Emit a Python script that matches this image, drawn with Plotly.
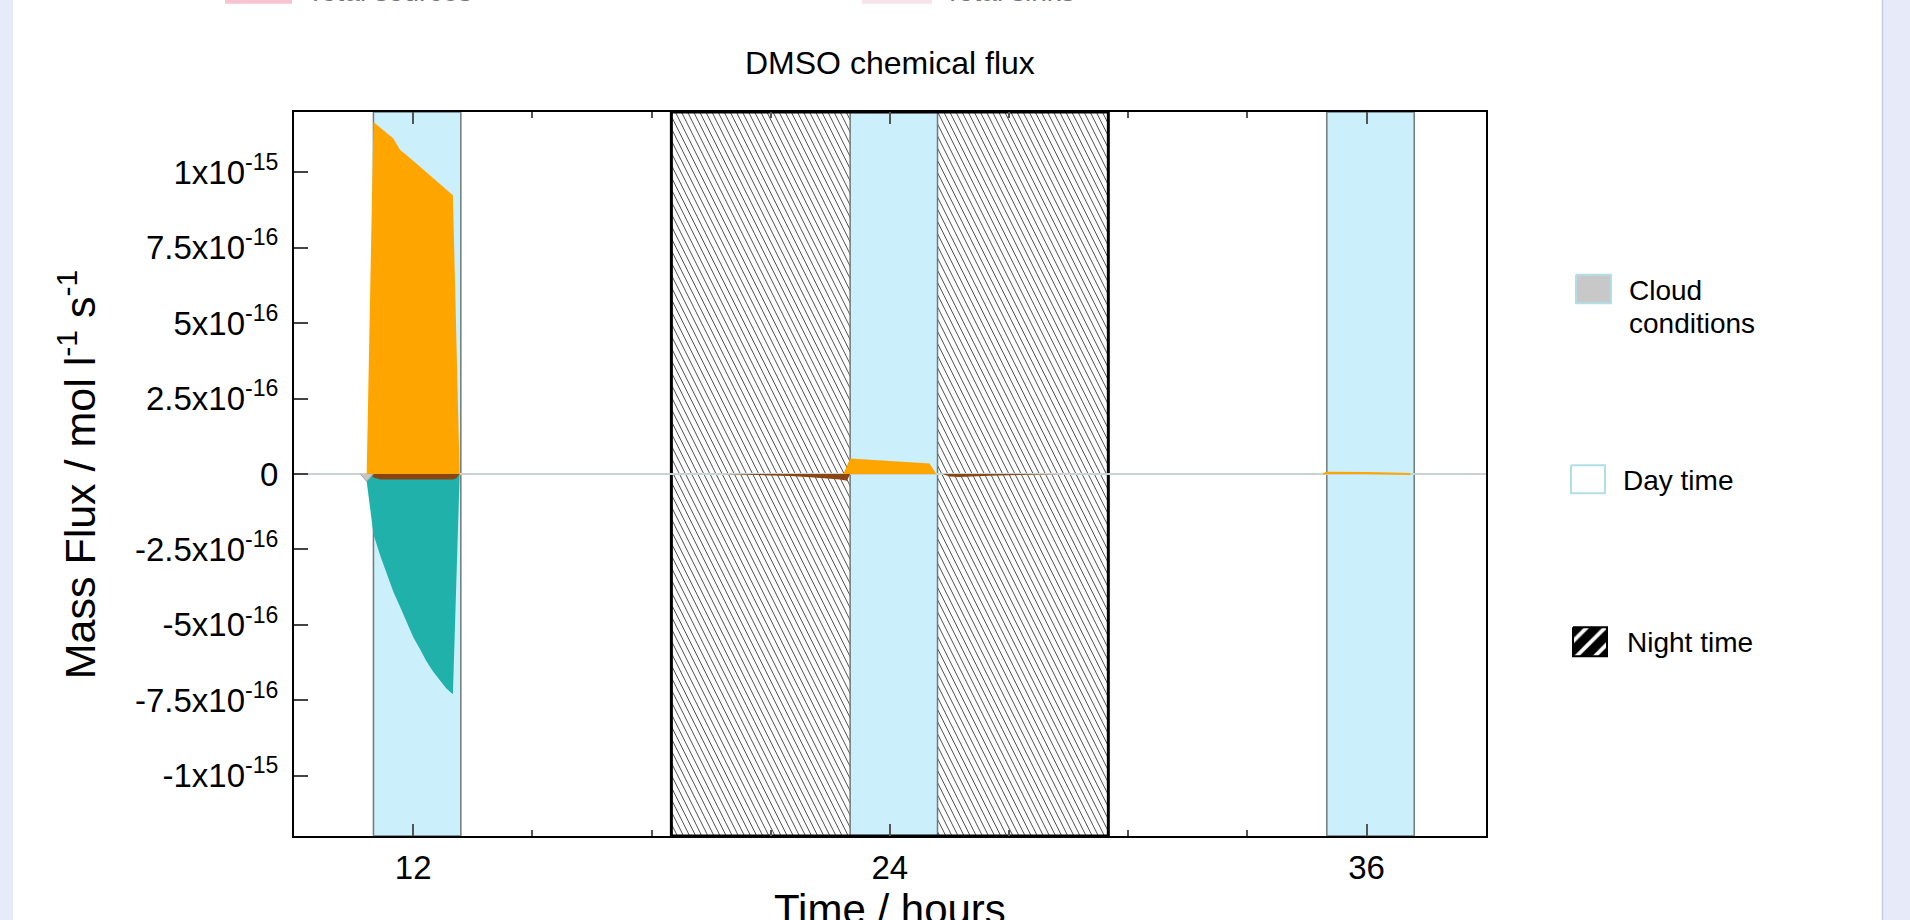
import plotly.graph_objects as go

# ---------------- geometry (reference pixel coords) ----------------
W, H = 1910, 920
PL, PR, PT, PB = 294.0, 1485.7, 111.7, 835.7

X_RANGE = [9, 39]
Y_RANGE = [-1.2e-15, 1.2e-15]

# ---------------- data ----------------
x_tickvals = [12, 24, 36]
x_ticktext = ["12", "24", "36"]

y_tickvals = [1e-15, 7.5e-16, 5e-16, 2.5e-16, 0, -2.5e-16, -5e-16, -7.5e-16, -1e-15]
y_ticktext = ["1x10<sup>-15</sup>", "7.5x10<sup>-16</sup>", "5x10<sup>-16</sup>",
              "2.5x10<sup>-16</sup>", "0", "-2.5x10<sup>-16</sup>",
              "-5x10<sup>-16</sup>", "-7.5x10<sup>-16</sup>", "-1x10<sup>-15</sup>"]

day_start = [11.0, 23.0, 35.0]
day_end = [13.2, 25.2, 37.2]
night_start = [18.5]
night_end = [29.5]

# orange source (positive)
orange1_t = [10.83, 11.0, 11.5, 11.67, 12.0, 12.5, 13.0, 13.17]
orange1_v = [0, 1.167e-15, 1.112e-15, 1.075e-15, 1.038e-15, 0.981e-15, 0.924e-15, 0]
orange2_t = [22.83, 23.0, 24.0, 25.0, 25.17]
orange2_v = [0, 5.1e-17, 4.3e-17, 3.5e-17, 0]
orange3_t = [34.92, 35.0, 36.0, 37.0, 37.1]
orange3_v = [0, 4e-18, 3e-18, 2e-18, 0]

# teal sink (negative)
teal_t = [10.83, 11.0, 11.17, 11.33, 11.5, 11.67, 11.83, 12.0, 12.17, 12.33,
          12.5, 12.67, 12.83, 13.0, 13.17]
teal_v = [-2.5e-17, -2.0e-16, -2.7e-16, -3.3e-16, -3.9e-16, -4.4e-16, -4.9e-16,
          -5.4e-16, -5.8e-16, -6.2e-16, -6.55e-16, -6.85e-16, -7.1e-16, -7.3e-16, 0]

# brown sink (negative, small)
brown1_t = [10.92, 11.0, 11.17, 12.0, 13.0, 13.08, 13.17]
brown1_v = [0, -1.2e-17, -1.8e-17, -1.8e-17, -1.8e-17, -1.5e-17, 0]
brown2_t = [19.83, 20.5, 21.0, 21.5, 22.0, 22.5, 22.75, 22.92, 23.0]
brown2_v = [0, -2e-18, -4e-18, -7e-18, -1.1e-17, -1.5e-17, -1.8e-17, -2.2e-17, 0]
brown3_t = [25.33, 25.5, 25.75, 26.0, 26.5, 27.0, 27.5, 28.0, 28.33]
brown3_v = [0, -8e-18, -1.0e-17, -8e-18, -6e-18, -4e-18, -3e-18, -2e-18, 0]

# gray sink (tiny)
gray_t = [10.67, 10.83, 11.0]
gray_v = [0, -2.5e-17, 0]

ORANGE = "#FFA500"
TEAL = "#20B2AA"
BROWN = "#8B4513"
GRAY = "#c4c4c4"
DAYBLUE = "#cbeffb"
FONT = "Liberation Sans, Arial, Helvetica, sans-serif"


def px(p):
    return p / W


def py(p):
    return (PB - p) / (PB - PT)


fig = go.Figure()


def area(t, v, color, lw=0.0, lcolor=None):
    fig.add_trace(go.Scatter(
        x=t, y=v, mode="lines", fill="tozeroy", fillcolor=color,
        line=dict(width=lw, color=lcolor or color), hoverinfo="skip",
        showlegend=False))


area(teal_t, teal_v, TEAL)
area(brown1_t, brown1_v, BROWN)
area(brown2_t, brown2_v, BROWN)
area(brown3_t, brown3_v, BROWN)
area(gray_t, gray_v, GRAY, 0.8, "#9a9a9a")
area(orange1_t, orange1_v, ORANGE)
area(orange2_t, orange2_v, ORANGE)
area(orange3_t, orange3_v, ORANGE, 2.0)


# ---------------- legend swatches (x2/y2 in pixel units) ----------------
def swatch(x0, x1, y0, y1, fill, lcolor, lw, pattern=None):
    kw = {}
    if pattern:
        kw["fillpattern"] = pattern
    fig.add_trace(go.Scatter(
        x=[x0, x1, x1, x0, x0], y=[y0, y0, y1, y1, y0], mode="lines",
        fill="toself", fillcolor=fill, line=dict(color=lcolor, width=lw),
        xaxis="x2", yaxis="y2", hoverinfo="skip", showlegend=False, **kw))


swatch(1576, 1611, 274.5, 303, "#c8c8c8", "#b0e0e6", 2)
swatch(1571, 1605, 465, 493, "white", "#b0e0e6", 2)
swatch(1573, 1607, 627, 656, "white", "black", 2,
       dict(shape="/", fgcolor="black", bgcolor="white", size=13, solidity=0.7,
            fgopacity=1))

# ---------------- shapes ----------------
shapes = []
shapes.append(dict(type="rect", xref="paper", yref="paper",
                   x0=px(13), x1=px(1882), y0=py(H + 40), y1=py(-40),
                   fillcolor="white", line=dict(width=0), layer="below"))
shapes.append(dict(type="line", xref="paper", yref="paper",
                   x0=px(1882.5), x1=px(1882.5), y0=py(H + 40), y1=py(-40),
                   line=dict(color="#c3c9e6", width=1.5), layer="below"))

# top (cut-off) legend swatches
shapes.append(dict(type="rect", xref="paper", yref="paper",
                   x0=px(225), x1=px(292), y0=py(3.5), y1=py(-30),
                   fillcolor="#f7c3d0", line=dict(width=0), layer="below"))
shapes.append(dict(type="rect", xref="paper", yref="paper",
                   x0=px(862), x1=px(932), y0=py(3.5), y1=py(-30),
                   fillcolor="#f6e4ea", line=dict(width=0), layer="below"))

# night hatch
hours_per_px = (X_RANGE[1] - X_RANGE[0]) / (PR - PL)
slope_h = 0.5 * (PB - PT) * hours_per_px
spacing_h = 6.1 * hours_per_px
for ns, ne in zip(night_start, night_end):
    parts = []
    xa = ns - slope_h
    while xa < ne:
        t0 = max(0.0, (ns - xa) / slope_h)
        t1 = min(1.0, (ne - xa) / slope_h)
        if t1 > t0:
            parts.append("M%.5f,%.5f L%.5f,%.5f" % (xa + t0 * slope_h, 1 - t0,
                                                    xa + t1 * slope_h, 1 - t1))
        xa += spacing_h
    shapes.append(dict(type="path", xref="x", yref="paper", path=" ".join(parts),
                       line=dict(color="#505050", width=1), layer="below"))

# day bands
for ds, de in zip(day_start, day_end):
    shapes.append(dict(type="rect", xref="x", yref="paper", x0=ds, x1=de, y0=0, y1=1,
                       fillcolor=DAYBLUE, line=dict(color="#6f7a7a", width=1.5),
                       layer="below"))

# night border
for ns, ne in zip(night_start, night_end):
    shapes.append(dict(type="rect", xref="x", yref="paper", x0=ns, x1=ne, y0=0, y1=1,
                       fillcolor="rgba(0,0,0,0)", line=dict(color="black", width=3),
                       layer="below"))

# ---------------- annotations ----------------
ann = []
ann.append(dict(text="DMSO chemical flux", x=px((PL + PR) / 2), y=py(63),
                xref="paper", yref="paper", showarrow=False, xanchor="center",
                yanchor="middle", font=dict(size=32, color="black", family=FONT)))
ann.append(dict(text="Mass Flux / mol l<sup>-1</sup> s<sup>-1</sup>", x=px(77), y=py(474),
                xref="paper", yref="paper", showarrow=False, textangle=-90,
                xanchor="center", yanchor="middle",
                font=dict(size=43, color="black", family=FONT)))
ann.append(dict(text="Time / hours", x=px((PL + PR) / 2), y=py(909),
                xref="paper", yref="paper", showarrow=False, xanchor="center",
                yanchor="middle", font=dict(size=42, color="black", family=FONT)))
legend_font = dict(size=28, color="black", family=FONT)
ann.append(dict(text="Cloud", x=px(1627), y=py(290), xref="paper", yref="paper",
                showarrow=False, xanchor="left", yanchor="middle", font=legend_font))
ann.append(dict(text="conditions", x=px(1627), y=py(323), xref="paper", yref="paper",
                showarrow=False, xanchor="left", yanchor="middle", font=legend_font))
ann.append(dict(text="Day time", x=px(1621), y=py(480), xref="paper", yref="paper",
                showarrow=False, xanchor="left", yanchor="middle", font=legend_font))
ann.append(dict(text="Night time", x=px(1625), y=py(642), xref="paper", yref="paper",
                showarrow=False, xanchor="left", yanchor="middle", font=legend_font))
# top legend row, mostly scrolled off the top of the page
ann.append(dict(text="Total sources", x=px(305), y=py(-9), xref="paper", yref="paper",
                showarrow=False, xanchor="left", yanchor="middle",
                font=dict(size=28, color="#777777", family=FONT)))
ann.append(dict(text="Total sinks", x=px(942), y=py(-9), xref="paper", yref="paper",
                showarrow=False, xanchor="left", yanchor="middle",
                font=dict(size=28, color="#777777", family=FONT)))

fig.update_layout(
    width=W, height=H,
    margin=dict(l=0, r=0, t=PT, b=H - PB, pad=0),
    paper_bgcolor="#e6eaf9", plot_bgcolor="white",
    showlegend=False,
    font=dict(family=FONT, color="black"),
    shapes=shapes, annotations=ann,
    xaxis=dict(domain=[px(PL), px(PR)], range=X_RANGE, tickvals=x_tickvals,
               ticktext=x_ticktext, ticks="inside", ticklen=12, tickwidth=2,
               tickcolor="#555555", showline=True, linecolor="black", linewidth=2,
               mirror="ticks", showgrid=False, zeroline=False,
               tickfont=dict(size=33, color="black", family=FONT),
               ticklabelstandoff=1,
               minor=dict(dtick=3, tick0=0, ticks="inside", ticklen=6, tickwidth=1.5,
                          tickcolor="#555555", showgrid=False)),
    yaxis=dict(domain=[0, 1], range=Y_RANGE, tickvals=y_tickvals, ticktext=y_ticktext,
               ticks="inside", ticklen=14, tickwidth=2, tickcolor="#444444",
               showline=True, linecolor="black", linewidth=2, mirror=True,
               showgrid=False, zeroline=True, zerolinecolor="#c9d3d3",
               zerolinewidth=1.5, tickfont=dict(size=33, color="black", family=FONT),
               ticklabelstandoff=7),
    xaxis2=dict(domain=[px(1560), px(1620)], range=[1560, 1620], visible=False,
                anchor="y2", fixedrange=True),
    yaxis2=dict(domain=[0, 1], range=[PB, PT], visible=False, anchor="x2",
                fixedrange=True),
)

fig.write_html("out.html",
               config={"displayModeBar": False},
               post_script="document.body.style.margin='0';"
                           "document.body.style.overflow='hidden';")
